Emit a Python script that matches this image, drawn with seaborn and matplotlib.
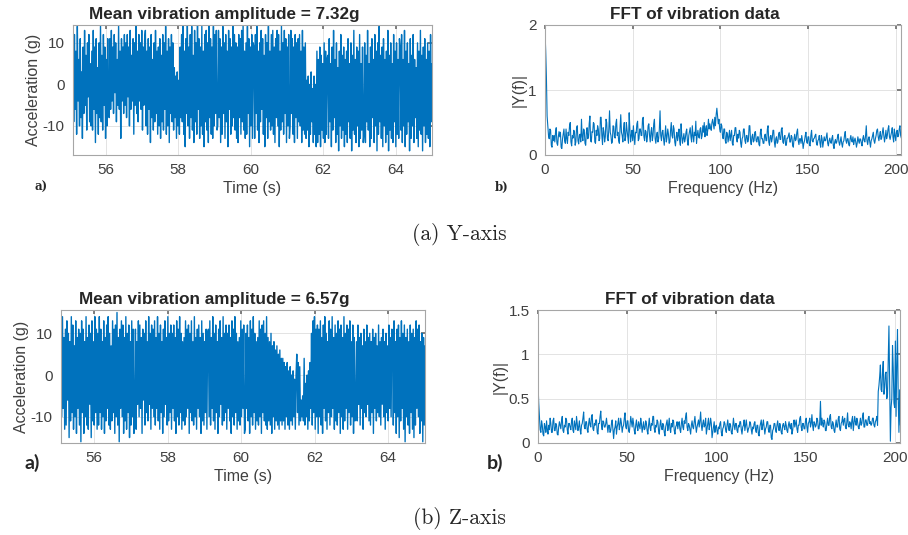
#!/usr/bin/env python3

# Vibration time traces and FFT spectra for the Y and Z axes.
import matplotlib.pyplot as plt
from matplotlib.ticker import FuncFormatter
import numpy as np
import pandas as pd
import seaborn as sns


BLUE = '#0072BD'

# Acceleration samples (g), 50 per second from 55.1 s
Y_TIME_G = """
10 -9 12 -6 8 -12 14 -4 6 -10 11 -8 3 -13 9 -7 13 -5 7 -11 10 -3 12 -9 5 -10 8 -11 13 -6 9 -14 11 -7 4 -12 10 -8 14 -9 7 -11 12 -5 9 -13 6 -10 11 -7
-8 11 -6 13 -4 9 -7 12 -2 10 -9 6 -5 14 -6 8 -13 11 -4 9 -7 12 -5 10 -8 12 -3 9 -10 13 -6 7 -4 11 -12 10 -5 14 -7 8 -9 12 -4 10 -6 13 -11 9 -5 11
13 -10 8 -12 11 -6 9 -14 12 -8 6 -11 10 -9 13 -7 8 -12 9 -10 11 -13 7 -9 12 -11 10 -6 14 -12 8 -10 11 -14 9 -7 12 -9 10 -11 4 -8 2 -13 3 -10 1 -12 9 -8
12 -9 14 -12 8 -15 11 -7 15 -10 9 -13 12 -8 14 -11 7 -14 13 -9 10 -12 15 -6 11 -13 9 -10 14 -12 8 -15 12 -9 13 -11 10 -14 15 -8 11 -12 9 -13 14 -10 12 -7 13 -11
-10 13 -8 11 -14 9 -12 14 -7 10 -13 12 -9 8 -15 13 -6 11 -12 9 -10 14 -8 12 -11 10 -13 9 -14 12 -8 11 -12 13 -9 15 -11 8 -13 10 -12 14 -7 11 -15 9 -10 12 -13 10
9 -13 12 -7 14 -11 8 -14 10 -9 13 -6 11 -12 7 -15 12 -8 10 -13 14 -9 8 -11 12 -10 13 -12 9 -14 11 -8 13 -10 12 -15 8 -11 14 -9 10 -12 13 -7 11 -14 9 -10 12 -13
-10 13 -7 11 -12 9 -14 12 -8 10 -13 11 -9 12 -10 8 -14 13 -11 9 -12 10 -13 1 -11 2 -15 0 -12 3 -9 -1 -14 2 -12 0 -15 8 -14 6 -12 9 -15 7 -11 5 -13 10 -14 8 -12 6
7 -13 11 -9 5 -15 9 -11 13 -8 6 -14 10 -12 4 -16 8 -10 12 -13 7 -11 9 -15 6 -12 8 -14 11 -9 5 -13 10 -16 7 -11 13 -12 6 -14 9 -10 8 -15 12 -13 5 -11 9 -14
-12 10 -14 7 -9 13 -11 5 -15 9 -13 11 -8 6 -14 12 -10 8 -16 10 -12 14 -9 7 -13 9 -15 11 -10 6 -14 8 -12 13 -16 7 -11 10 -13 5 -14 12 -9 8 -15 10 -12 6 -13 11
9 -11 12 -14 6 -10 13 -15 8 -12 10 -9 5 -16 11 -13 7 -10 12 -14 6 -8 4 -13 10 -15 8 -11 13 -12 7 -16 9 -10 11 -14 6 -12 10 -13 8 -15 12 -9 5
"""

Z_TIME_G = """
12 -10 14 -8 9 -13 11 -12 13 -6 10 -15 8 -11 14 -9 12 -13 7 -10 13 -14 9 -8 11 -12 10 -16 13 -9 11 -14 8 -10 14 -12 9 -13 12 -7 10 -15 13 -11 8 -12 14 -9 11 -13
10 -12 14 -9 11 -13 8 -10 13 -14 9 -11 12 -8 14 -12 10 -13 7 -11 13 -9 11 -14 12 -10 15 -12 9 -16 11 -8 13 -10 12 -14 9 -11 14 -13 10 -9 12 -15 8 -12 13 -10 11 -14
-9 11 -13 8 -7 13 -10 12 -8 9 -14 11 -6 10 -12 13 -9 8 -11 14 -7 10 -13 12 -8 11 -10 13 -12 9 -8 14 -11 10 -13 12 -9 8 -14 11 -10 13 -7 9 -12 14 -11 10 -9 12
-13 10 -8 12 -11 9 -14 13 -10 11 -12 14 -9 10 -13 8 -11 9 -12 13 -10 11 -8 12 -14 10 -9 13 -11 8 -12 14 -10 9 -13 11 -8 12 -10 9 -14 13 -11 10 -12 8 -9 11 -13 10
11 -10 13 -12 9 -8 14 -11 10 -13 12 -9 8 -14 11 -10 13 -7 9 -12 14 -11 10 -9 12 -13 10 -8 12 -11 9 -14 13 -10 11 -12 14 -9 10 -13 8 -11 9 -12 13 -10 11 -8 12 -14
-13 10 -8 12 -11 9 -14 13 -10 11 -12 14 -9 10 -13 8 -11 9 -12 13 -10 11 -14 12 -9 13 -11 10 -12 14 -13 9 -11 8 -12 10 -14 7 -10 8 -13 6 -11 7 -12 5 -13 6 -11 4
-12 4 -11 3 -13 2 -10 3 -12 1 -13 2 -11 0 -12 1 -10 -1 -13 0 5 -9 3 -12 2 -11 -6 -10 -5 -11 4 -12 -2 -10 0 -13 1 -11 3 -8 10 -12 13 -9 14 -13 11 -10 12 -14
11 -10 13 -12 9 -14 12 -8 14 -11 10 -13 8 -9 13 -12 11 -10 14 -8 9 -13 12 -11 10 -12 13 -9 11 -14 12 -10 9 -13 14 -11 10 -8 12 -13 11 -9 13 -12 8 -10 12 -14 9 -11
-9 8 -11 12 -7 9 -12 10 -8 7 -13 11 -9 8 -10 12 -7 9 -11 10 -12 8 -9 11 -14 9 -8 10 -11 7 -9 12 -10 8 -12 9 -7 11 -10 8 -13 10 -9 7 -11 12 -8 9 -10 11
10 -12 13 -9 8 -14 11 -10 12 -15 9 -11 13 -8 10 -13 12 -16 9 -10 11 -12 8 -14 12 -9 10 -13 11 -15 9 -12 13 -8 11 -10 12 -14 8 -11 10 -16 9 -12 7
"""

# |Y(f)| in hundredths, one value every 0.4 Hz from 0 Hz
Y_FFT = """
190 160 120 60 45 30 25 40 38 15 12 30 22 30 20 35 42 18 15 28 36 28 35 12 10 25 33 40 22 18 40 25 18 35 30 45 50 20 14 30 26 38 36 15 20 42 45 22 17 30
32 20 55 28 22 40 38 18 15 35 42 25 28 48 60 22 20 36 35 50 48 20 18 38 30 45 40 22 25 58 58 30 16 42 36 20 28 55 50 25 22 40 68 35 30 18 20 45 44 28
26 48 55 30 35 22 18 42 62 35 30 20 40 50 22 28 50 38 28 18 65 40 20 30 38 22 45 28 16 35 34 48 52 22 25 40 40 30 30 55 58 28 22 38 36 20 28 45 48 30
20 35 42 22 30 48 55 25 18 30 35 20 25 40 68 30 22 35 38 25 15 30 45 20 28 40 32 18 20 38 50 30 26 45 40 20 14 28 35 22 30 40 22 15 48 30 18 25 33 20
25 35 40 22 15 30 36 42 28 20 45 30 20 35 30 52 18 30 38 28 26 40 42 25 30 45 35 50 28 40 45 30 38 55 40 48 42 38 50 55 48 40 58 45 62 72 60 48 55 40
35 48 45 30 25 40 40 22 18 35 32 20 28 38 22 30 38 18 15 30 30 42 42 25 20 32 26 38 35 18 12 25 28 40 40 22 18 30 30 20 24 45 45 22 16 28 32 20 22 35
36 22 20 28 28 16 14 35 40 25 25 18 18 30 32 22 22 40 45 20 15 28 30 20 26 38 38 20 12 25 28 18 20 32 35 24 24 40 42 20 18 28 30 15 15 26 26 30 34 20
20 30 28 15 12 25 32 22 24 35 40 22 16 25 25 18 30 22 10 18 22 30 35 20 18 28 28 15 14 30 38 22 20 25 26 30 32 18 15 22 24 30 18 12 30 25 12 20 28 22
22 28 34 18 14 22 26 20 18 26 30 15 10 20 24 18 20 28 32 20 15 22 28 18 12 20 22 30 36 22 18 25 25 16 14 25 30 22 20 28 16 22 26 20 12 18 28 22 18 25
24 18 14 25 30 22 20 30 45 22 16 25 28 20 12 22 25 30 35 22 18 25 30 38 40 28 22 30 36 24 26 35 42 30 20 28 38 25 30 40 45 28 24 30 35 42 28 20 40 30
22 35 38 28 30 40 45 30 26
"""

Z_FFT = """
68 45 30 15 12 25 20 10 8 22 18 12 25 15 10 20 15 28 22 12 12 25 28 14 14 22 20 10 9 18 24 20 16 25 30 14 12 20 18 28 26 15 10 22 22 18 15 24 28 14
12 25 20 15 30 22 14 18 25 15 10 20 22 28 35 18 16 24 24 15 12 22 28 20 18 30 32 16 14 22 20 26 26 12 10 22 22 30 36 20 15 25 24 18 18 22 28 20 12 20
20 12 14 22 26 15 5 15 18 25 10 18 22 28 15 20 28 22 12 18 20 28 34 18 16 25 25 14 12 20 30 24 18 28 22 14 10 20 26 18 14 24 20 16 28 22 12 18 24 15
16 25 22 14 10 20 28 18 14 22 20 30 30 16 12 20 18 26 24 14 10 20 26 18 15 22 20 12 8 18 22 26 14 20 28 16 12 22 18 26 25 14 10 18 20 24 16 22 24 15
12 22 28 18 15 25 22 30 34 18 14 22 20 15 10 20 25 18 16 24 30 20 12 18 22 26 18 25 35 20 14 22 26 18 20 28 10 16 22 28 15 20 28 22 6 12 18 24 12 18
20 14 10 18 16 22 24 12 8 16 18 24 22 15 12 20 26 18 14 22 20 12 10 18 28 20 15 22 22 14 12 20 18 24 24 15 10 18 20 26 14 20 26 18 12 16 18 24 22 15
10 18 16 22 24 15 12 20 20 10 8 18 22 26 15 20 26 18 10 16 18 24 24 15 12 20 20 6 4 14 16 22 22 15 12 20 25 18 14 22 18 12 10 20 22 18 15 24 20 14
12 20 24 18 16 22 10 14 22 26 18 22 26 16 12 20 20 28 30 18 14 22 22 16 16 25 28 18 12 22 24 28 18 22 32 20 14 24 22 18 20 28 26 16 16 24 47 20 28 22
18 26 24 14 14 22 28 20 20 30 32 18 16 24 22 14 12 20 26 18 18 28 30 16 14 22 24 30 20 26 28 18 16 24 34 20 18 24 22 16 26 30 14 22 30 24 20 28 24 18
16 22 28 20 22 30 34 18 18 26 26 20 20 28 30 22 24 20 22 28 28 20 18 24 26 30 20 58 65 75 88 60 58 80 92 55 62 78 80 50 55 95 132 70 2 40 50 110 85 45
40 115 30 90 128 50 12 60 20
"""

T_START, T_END = 55.1, 65.0
DF_HZ = 0.4

TITLES_TIME = ['Mean vibration amplitude = 7.32g', 'Mean vibration amplitude = 6.57g']
TITLE_FFT = 'FFT of vibration data'
CAPTIONS = ['(a) Y-axis', '(b) Z-axis']


def parse(block, scale=1.0):
    return np.array(block.split(), dtype=float) * scale


def time_frame(block):
    g = parse(block)
    t = np.linspace(T_START, T_END, len(g))
    return pd.DataFrame({'t': t, 'g': g})


def fft_frame(block):
    a = parse(block, 0.01)
    return pd.DataFrame({'f': np.arange(len(a)) * DF_HZ, 'a': a})


def style(ax):
    ax.set_facecolor('white')
    for s in ax.spines.values():
        s.set_color('#a6a6a6')
        s.set_linewidth(0.8)
    ax.grid(True, color='#e3e3e3', linewidth=0.7)
    ax.set_axisbelow(True)
    ax.tick_params(direction='in', length=3, color='#6e6e6e', labelcolor='#404040',
                   labelsize=11, pad=6, top=True, right=True)
    ax.xaxis.label.set_color('#404040')
    ax.yaxis.label.set_color('#404040')
    ax.yaxis.set_major_formatter(FuncFormatter(lambda v, p: '%g' % v))


def main():
    sns.set_theme(style='white')
    plt.rcParams['font.family'] = ['Liberation Sans', 'DejaVu Sans']
    plt.rcParams['axes.unicode_minus'] = False

    fig = plt.figure(figsize=(9.08, 5.35), dpi=100)
    W, H = 908, 535

    def box(l, r, t, b):
        return [l / W, (H - b) / H, (r - l) / W, (b - t) / H]

    axes_time = [fig.add_axes(box(73, 432, 25, 155)), fig.add_axes(box(61, 425, 310, 443))]
    axes_fft = [fig.add_axes(box(545, 901, 25, 155)), fig.add_axes(box(538, 900, 310, 443))]
    ylims_time = [(-17, 14.3), (-16.3, 15.6)]
    ylims_fft = [(0, 2), (0, 1.5)]
    yticks_fft = [[0, 1, 2], [0, 0.5, 1, 1.5]]

    for i, (ax, block) in enumerate(zip(axes_time, [Y_TIME_G, Z_TIME_G])):
        data = time_frame(block)
        sns.lineplot(data=data, x='t', y='g', ax=ax, color=BLUE, linewidth=1.0,
                     estimator=None, sort=False)
        style(ax)
        ax.set_xlim(T_START, T_END)
        ax.set_ylim(*ylims_time[i])
        ax.set_xticks([56, 58, 60, 62, 64])
        ax.set_yticks([-10, 0, 10])
        ax.set_xlabel('Time (s)', fontsize=11.5, labelpad=3)
        ax.set_ylabel('Acceleration (g)', fontsize=11.5, labelpad=1)
        ax.set_title(TITLES_TIME[i], fontsize=12.3, fontweight='bold', pad=4, x=0.42)

    for i, (ax, block) in enumerate(zip(axes_fft, [Y_FFT, Z_FFT])):
        data = fft_frame(block)
        sns.lineplot(data=data, x='f', y='a', ax=ax, color=BLUE, linewidth=0.8,
                     estimator=None, sort=False)
        style(ax)
        ax.set_xlim(0, 203)
        ax.set_ylim(*ylims_fft[i])
        ax.set_xticks([0, 50, 100, 150, 200])
        ax.set_yticks(yticks_fft[i])
        ax.set_xlabel('Frequency (Hz)', fontsize=11.5, labelpad=3)
        ax.set_ylabel('|Y(f)|', fontsize=11.5, labelpad=1)
        ax.set_title(TITLE_FFT, fontsize=12.3, fontweight='bold', pad=4, x=0.42)

    # panel letters and sub-captions
    fig.text(41 / W, 1 - 187 / H, 'a)', ha='center', va='center', fontsize=8.5,
             fontweight='bold', family=['DejaVu Serif'])
    fig.text(502 / W, 1 - 187 / H, 'b)', ha='center', va='center', fontsize=8.5,
             fontweight='bold', family=['DejaVu Serif'])
    fig.text(32 / W, 1 - 463 / H, 'a)', ha='center', va='center', fontsize=14,
             fontweight='bold', family=['Lato', 'DejaVu Sans'])
    fig.text(495 / W, 1 - 463 / H, 'b)', ha='center', va='center', fontsize=14,
             fontweight='bold', family=['Lato', 'DejaVu Sans'])
    fig.text(459 / W, 1 - 234 / H, CAPTIONS[0], ha='center', va='center', fontsize=15.5,
             family=['cmr10', 'DejaVu Serif'])
    fig.text(459 / W, 1 - 518 / H, CAPTIONS[1], ha='center', va='center', fontsize=15.5,
             family=['cmr10', 'DejaVu Serif'])

    fig.savefig('out.png', dpi=100, facecolor='white')
    plt.close(fig)


if __name__ == '__main__':
    main()
